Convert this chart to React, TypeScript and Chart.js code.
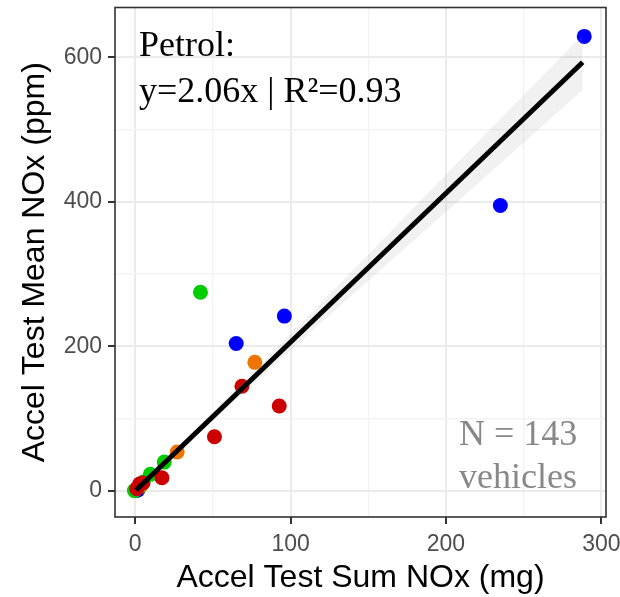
import React, { useEffect, useRef } from "react";
import { Chart, registerables } from "chart.js";
Chart.register(...registerables);

// Petrol vehicles: Accel Test Sum NOx (mg) vs Accel Test Mean NOx (ppm)
const blueX = [289, 235, 96, 65, 1.7, 0.5];
const blueY = [629, 395, 242, 204, 1.4, 0.8];
const greenX = [42, 18.7, 9.7, 5, 3, -0.5];
const greenY = [275, 40, 23, 12, 6, 0.5];
const orangeX = [77, 27, 3];
const orangeY = [178, 54, 7];
const redX = [68.7, 92.7, 51, 17.2, 5, 2.8, 1];
const redY = [145, 117.5, 75, 18.4, 11, 9.7, 3];

// fitted line y = 2.06x and its confidence band
const fitX = [0.5, 288];
const fitY = [1, 593.3];
const bandX = [0, 50, 100, 150, 200, 250, 288];
const bandLow = [-3, 97, 195, 291, 386, 482, 555];
const bandHigh = [3, 109, 217, 327, 438, 548, 631];

const xTicks = [0, 50, 100, 150, 200, 250, 300];
const yTicks = [0, 100, 200, 300, 400, 500, 600];
const xLabelled = [0, 100, 200, 300];
const yLabelled = [0, 200, 400, 600];

const annoTop = ["Petrol:", "y=2.06x | R\u00B2=0.93"];
const annoBottom = ["N = 143", "vehicles"];

const toPts = (xs: number[], ys: number[]) => xs.map((x, i) => ({ x, y: ys[i] }));

const SANS = "'Liberation Sans', Arial, sans-serif";
const SERIF = "'Liberation Serif', 'Times New Roman', serif";

export default function App() {
  const ref = useRef<HTMLCanvasElement | null>(null);
  useEffect(() => {
    if (!ref.current) return;

    const overlay = {
      id: "overlay",
      afterDatasetsDraw(chart: any) {
        const ctx = chart.ctx;
        ctx.save();
        ctx.font = `36px ${SERIF}`;
        ctx.textAlign = "left";
        ctx.textBaseline = "alphabetic";
        ctx.fillStyle = "#000000";
        ctx.fillText(annoTop[0], 139, 56);
        ctx.fillText(annoTop[1], 139, 102);
        ctx.fillStyle = "#888888";
        ctx.fillText(annoBottom[0], 459, 445);
        ctx.fillText(annoBottom[1], 459, 488);
        ctx.restore();
      },
      afterDraw(chart: any) {
        const { ctx, chartArea: a } = chart;
        ctx.save();
        ctx.strokeStyle = "#333333";
        ctx.lineWidth = 1.6;
        ctx.strokeRect(a.left, a.top, a.right - a.left, a.bottom - a.top);
        ctx.restore();
      },
    };

    const grid = (labelled: number[]) => ({
      color: (c: any) => {
        const v = c.tick?.value;
        return labelled.includes(v) ? "#ebebeb" : "#f3f3f3";
      },
      lineWidth: (c: any) => (labelled.includes(c.tick?.value) ? 2 : 1.4),
      tickColor: (c: any) => (labelled.includes(c.tick?.value) ? "#333333" : "rgba(0,0,0,0)"),
      tickLength: 7,
      tickWidth: 2,
    });

    const pointDs = (xs: number[], ys: number[], color: string, order: number) => ({
      data: toPts(xs, ys),
      backgroundColor: color,
      borderColor: color,
      borderWidth: 0,
      pointRadius: 7.5,
      showLine: false,
      order,
    });

    const chart = new Chart(ref.current, {
      type: "scatter",
      data: {
        datasets: [
          {
            data: toPts(fitX, fitY),
            showLine: true,
            borderColor: "#000000",
            borderWidth: 5,
            pointRadius: 0,
            order: 0,
          } as any,
          {
            data: toPts(bandX, bandHigh),
            showLine: true,
            borderWidth: 0,
            borderColor: "rgba(0,0,0,0)",
            pointRadius: 0,
            fill: "+1",
            backgroundColor: "rgba(150,150,150,0.13)",
            order: 1,
          },
          {
            data: toPts(bandX, bandLow),
            showLine: true,
            borderWidth: 0,
            borderColor: "rgba(0,0,0,0)",
            pointRadius: 0,
            order: 2,
          },
          pointDs(redX, redY, "#cd0000", 3),
          pointDs(orangeX, orangeY, "#ee7600", 4),
          pointDs(greenX, greenY, "#00cd00", 5),
          pointDs(blueX, blueY, "#0000ff", 6),
        ],
      },
      options: {
        animation: false,
        responsive: false,
        devicePixelRatio: 1,
        layout: { padding: { top: 7, right: 14, left: 0, bottom: 0 } },
        plugins: { legend: { display: false }, tooltip: { enabled: false } },
        scales: {
          x: {
            type: "linear",
            min: -13,
            max: 303,
            afterBuildTicks: (s: any) => {
              s.ticks = xTicks.map((v) => ({ value: v }));
            },
            afterFit: (s: any) => {
              s.height = 80;
              s.paddingLeft = 0;
              s.paddingRight = 0;
            },
            ticks: {
              autoSkip: false,
              maxRotation: 0,
              padding: 7,
              color: "#4d4d4d",
              font: { family: SANS, size: 23 },
              callback: (v: any) => (xLabelled.includes(v) ? String(v) : ""),
            },
            grid: grid(xLabelled),
            border: { display: false },
            title: {
              display: true,
              text: "Accel Test Sum NOx (mg)",
              color: "#000000",
              font: { family: SANS, size: 32 },
              padding: { top: 0, bottom: 0 },
            },
          },
          y: {
            type: "linear",
            min: -36,
            max: 669,
            afterBuildTicks: (s: any) => {
              s.ticks = yTicks.map((v) => ({ value: v }));
            },
            afterFit: (s: any) => {
              s.width = 115;
              s.paddingTop = 0;
              s.paddingBottom = 0;
            },
            ticks: {
              autoSkip: false,
              padding: 6,
              color: "#4d4d4d",
              font: { family: SANS, size: 23 },
              callback: (v: any) => (yLabelled.includes(v) ? String(v) : ""),
            },
            grid: grid(yLabelled),
            border: { display: false },
            title: {
              display: true,
              text: "Accel Test Mean NOx (ppm)",
              color: "#000000",
              font: { family: SANS, size: 32 },
              padding: { top: 16, bottom: 0 },
            },
          },
        },
      } as any,
      plugins: [overlay],
    });
    return () => chart.destroy();
  }, []);

  return (
    <div style={{ position: "absolute", left: 0, top: 0, width: 620, height: 597 }}>
      <canvas ref={ref} width={620} height={597} style={{ width: 620, height: 597, display: "block" }} />
    </div>
  );
}
